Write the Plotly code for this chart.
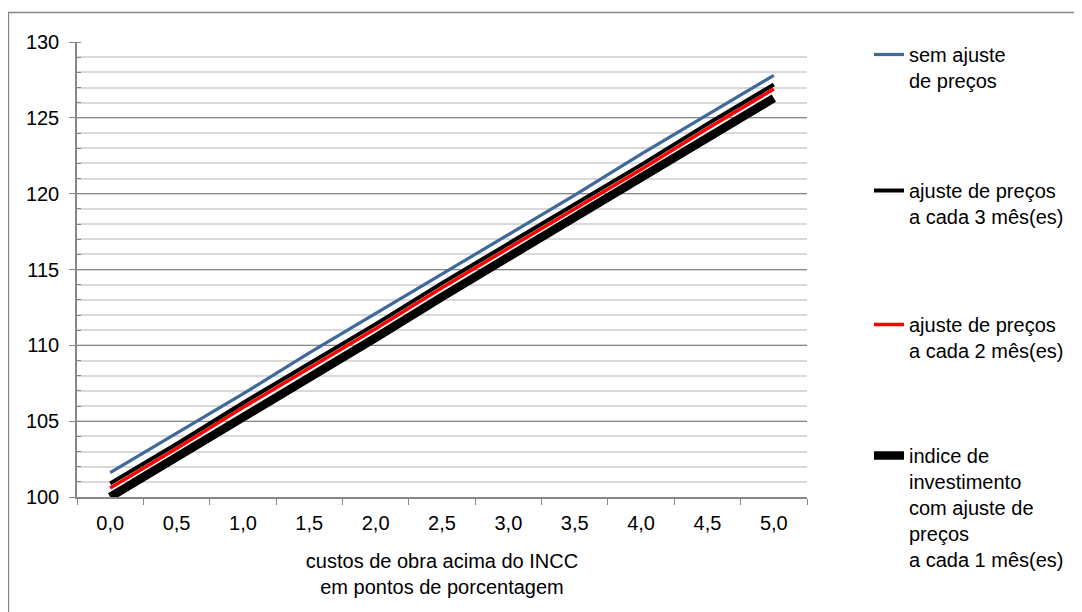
import plotly.graph_objects as go

categories = ["0,0", "0,5", "1,0", "1,5", "2,0", "2,5", "3,0", "3,5", "4,0", "4,5", "5,0"]
sem_ajuste = [101.6, 104.2, 106.8, 109.5, 112.1, 114.7, 117.3, 119.9, 122.6, 125.2, 127.8]
ajuste_3m = [100.9, 103.5, 106.2, 108.8, 111.4, 114.1, 116.7, 119.3, 121.9, 124.6, 127.2]
ajuste_2m = [100.6, 103.2, 105.9, 108.5, 111.1, 113.8, 116.4, 119.0, 121.6, 124.3, 126.9]
ajuste_1m = [100.0, 102.6, 105.3, 107.9, 110.5, 113.2, 115.8, 118.4, 121.0, 123.7, 126.3]

names = [
    "sem ajuste<br>de preços",
    "ajuste de preços<br>a cada 3 mês(es)",
    "ajuste de preços<br>a cada 2 mês(es)",
    "indice de<br>investimento<br>com ajuste de<br>preços<br>a cada 1 mês(es)",
]

FONT = "Liberation Sans, Arial, sans-serif"
FS = 20
OFF = 8  # page body margin
W, H = 1082 - OFF, 612 - OFF
L, R, T, B = 77 - OFF, 807 - OFF, 42 - OFF, 497 - OFF

def px_x(p):
    return (p - OFF - L) / (R - L)

def px_y(p):
    return (B - (p - OFF)) / (B - T)

fig = go.Figure()
series = [
    (ajuste_1m, names[3], "black", 8.5, "legend4"),
    (ajuste_2m, names[2], "#ff0000", 3.5, "legend3"),
    (ajuste_3m, names[1], "black", 4, "legend2"),
    (sem_ajuste, names[0], "#41689a", 3.2, "legend"),
]
for vals, name, color, width, leg in series:
    fig.add_trace(go.Scatter(
        x=categories, y=vals, name=name, mode="lines",
        line=dict(color=color, width=width),
        legend=leg, showlegend=True,
    ))

leg_common = dict(
    font=dict(family=FONT, size=FS, color="black"),
    bgcolor="rgba(0,0,0,0)", xanchor="left", yanchor="top",
    valign="top", x=px_x(869), tracegroupgap=0,
)
first_lines = [56, 192, 326, 457]
legs = {}
for i, key in enumerate(["legend", "legend2", "legend3", "legend4"]):
    legs[key] = dict(leg_common, y=px_y(first_lines[i] - 21))

fig.update_layout(
    width=W, height=H,
    margin=dict(l=L, r=W - R, t=T, b=H - B, pad=0),
    paper_bgcolor="white", plot_bgcolor="white",
    font=dict(family=FONT, size=FS, color="black"),
    xaxis=dict(
        type="category", tickson="boundaries", ticks="outside", ticklen=6,
        tickcolor="#868686", tickwidth=1.3, showgrid=False,
        showline=True, linecolor="#868686", linewidth=1.5,
        tickfont=dict(family=FONT, size=FS, color="black"),
        ticklabelstandoff=7,
        range=[-0.5, 10.5],
        title=dict(text="custos de obra acima do INCC<br>em pontos de porcentagem",
                   font=dict(family=FONT, size=FS, color="black"), standoff=21),
    ),
    yaxis=dict(
        range=[100, 130], dtick=5, tick0=100,
        ticks="outside", ticklen=6, tickcolor="#868686", tickwidth=1.3,
        showgrid=True, gridcolor="#868686", gridwidth=1.3,
        showline=True, linecolor="#868686", linewidth=1.5,
        tickfont=dict(family=FONT, size=FS, color="black"),
        ticklabelstandoff=6, zeroline=False,
        minor=dict(dtick=1, showgrid=True, gridcolor="#d9d9d9", gridwidth=1.5,
                   ticks="inside", ticklen=4, tickcolor="#868686", tickwidth=1.3),
    ),
    shapes=[dict(type="rect", xref="paper", yref="paper",
                 x0=px_x(8.5), x1=px_x(1100), y0=px_y(640), y1=px_y(12.5),
                 line=dict(color="#868686", width=1.3), fillcolor="rgba(0,0,0,0)",
                 layer="below")],
    **legs,
)

fig.write_html("out.html")
